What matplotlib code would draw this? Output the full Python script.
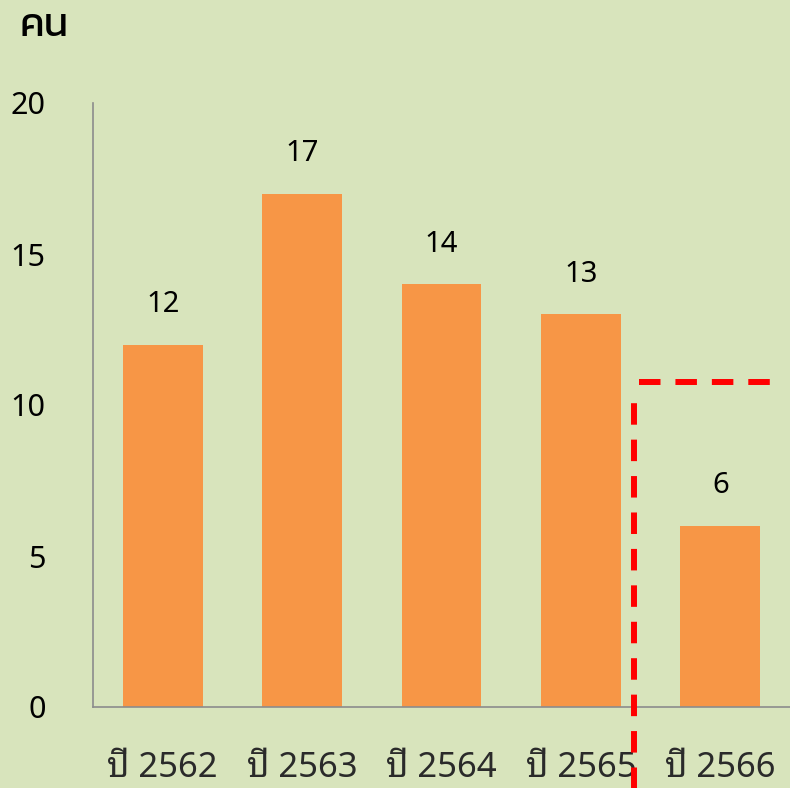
import matplotlib
matplotlib.use("Agg")
import matplotlib.pyplot as plt
import numpy as np

# data
years = ["ปี 2562", "ปี 2563", "ปี 2564", "ปี 2565", "ปี 2566"]
counts = [12, 17, 14, 13, 6]
yticks = [0, 5, 10, 15, 20]
unit_label = "คน"

bg = "#D8E4BC"
bar_color = "#F79646"
spine_color = "#8C8C8C"

fig = plt.figure(figsize=(7.9, 7.88), dpi=100, facecolor=bg)
ax = fig.add_axes([93/790, 1 - 707/788, 1 - 93/790, (707 - 103)/788])
ax.set_facecolor(bg)

x = np.arange(len(years))
bars = ax.bar(x, counts, width=0.573, color=bar_color, zorder=2)

for xi, v in zip(x, counts):
    ax.annotate(str(v), (xi, v), xytext=(0, 18.5), textcoords="offset points",
                ha="center", va="bottom", fontsize=21, family=["Noto Sans", "DejaVu Sans"],
                color="black")

ax.set_xlim(-0.5, 4.5)
ax.set_ylim(0, 20)
ax.set_yticks(yticks)
ax.set_yticklabels([str(t) for t in yticks], fontsize=22, family=["Noto Sans", "DejaVu Sans"])
ax.set_xticks(x)
ax.set_xticklabels(years, fontsize=25, family=["Noto Sans Thai Looped", "Noto Sans"],
                   fontweight="light", color="#2a2a2a")
ax.tick_params(axis="y", length=0, pad=34)
ax.tick_params(axis="x", length=0, pad=32)

for s in ["top", "right"]:
    ax.spines[s].set_visible(False)
for s in ["left", "bottom"]:
    ax.spines[s].set_color(spine_color)
    ax.spines[s].set_linewidth(1.2)

# highlight box around the latest year
box_x = 3.38
box_top = 10.76
ax.plot([box_x, box_x], [-2.7, 10.43], color="#FF0000", lw=4.3, dashes=(3.6, 2.5),
        clip_on=False, solid_capstyle="butt", zorder=3)
ax.plot([box_x + 0.035, 4.365], [box_top, box_top], color="#FF0000", lw=4.3,
        dashes=(3.6, 2.5), clip_on=False, zorder=3)

fig.text(20/790, 1 - 36/788, unit_label, fontsize=29, family=["Kanit", "DejaVu Sans"],
         ha="left", va="baseline")

fig.savefig("out.png", dpi=100, facecolor=bg)
